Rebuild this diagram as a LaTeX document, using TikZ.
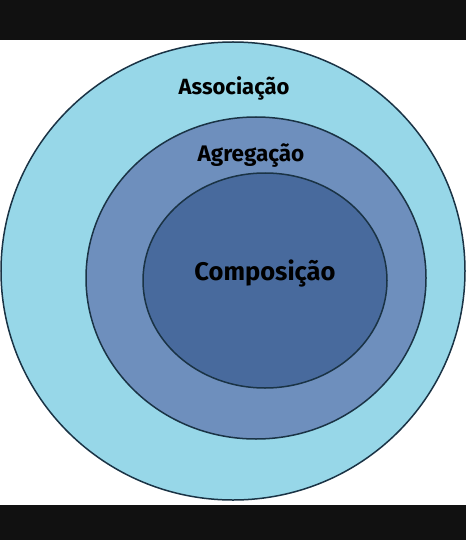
\documentclass[tikz,border=0pt]{standalone}
\usepackage{fontspec}
\setmainfont{Fira Sans}
\definecolor{barc}{HTML}{111111}
\definecolor{outerc}{HTML}{97D7E8}
\definecolor{midc}{HTML}{6E8FBD}
\definecolor{innerc}{HTML}{486A9D}
\definecolor{linec}{HTML}{1A3345}
\tikzset{ring/.style={draw=linec, line width=1.5pt},
  lbl/.style={font=\bfseries, text=black, inner sep=0pt}}
\begin{document}
\begin{tikzpicture}[x=1pt,y=-1pt]
\useasboundingbox (0,0) rectangle (466,540);
\fill[white] (0,0) rectangle (466,540);
\fill[barc] (0,0) rectangle (466,40);
\fill[barc] (0,505) rectangle (466,540);
\begin{scope}
\clip (0,40) rectangle (466,505);
\path[ring, fill=outerc] (233,271) ellipse [x radius=232, y radius=229];
\end{scope}
\path[ring, fill=midc] (256,278) ellipse [x radius=170, y radius=161];
\path[ring, fill=innerc] (265,280.5) ellipse [x radius=122, y radius=107.5];
\node[lbl, font=\fontsize{22}{24}\selectfont\bfseries] (assoc) at (234,88) {Associação};
\node[lbl, font=\fontsize{22.5}{24}\selectfont\bfseries] (agreg) at (251,156) {Agregação};
\node[lbl, font=\fontsize{25.5}{30}\selectfont\bfseries] (comp) at (265,273) {Composição};
\end{tikzpicture}
\end{document}
